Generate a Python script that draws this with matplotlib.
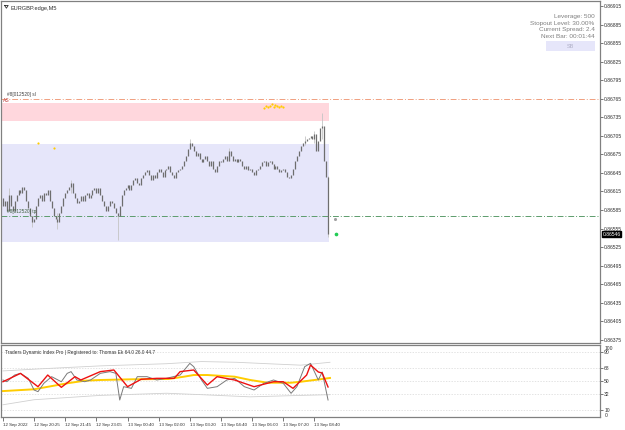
import numpy as np
import matplotlib
matplotlib.use('Agg')
import matplotlib.pyplot as plt
from matplotlib.patches import Rectangle
import matplotlib.transforms as mtrans

plt.rcParams['font.family'] = ['Liberation Sans', 'DejaVu Sans']

# M5 closes, one per bar
closes = [0.86592, 0.86600, 0.86584, 0.86609, 0.86592, 0.86584, 0.86600, 0.86609, 0.86617, 0.86612,
          0.86623, 0.86617, 0.86600, 0.86588, 0.86576, 0.86565, 0.86571, 0.86592, 0.86604, 0.86609,
          0.86600, 0.86613, 0.86609, 0.86617, 0.86600, 0.86588, 0.86576, 0.86571, 0.86565, 0.86581,
          0.86592, 0.86604, 0.86613, 0.86617, 0.86623, 0.86628, 0.86613, 0.86604, 0.86596, 0.86600,
          0.86607, 0.86600, 0.86609, 0.86613, 0.86605, 0.86609, 0.86617, 0.86621, 0.86613, 0.86620,
          0.86609, 0.86600, 0.86592, 0.86584, 0.86592, 0.86600, 0.86596, 0.86588, 0.86581, 0.86576,
          0.86592, 0.86609, 0.86617, 0.86620, 0.86625, 0.86617, 0.86625, 0.86633, 0.86636, 0.86629,
          0.86625, 0.86636, 0.86641, 0.86646, 0.86649, 0.86641, 0.86633, 0.86641, 0.86636, 0.86646,
          0.86652, 0.86646, 0.86639, 0.86649, 0.86652, 0.86657, 0.86646, 0.86641, 0.86636, 0.86646,
          0.86649, 0.86652, 0.86657, 0.86665, 0.86673, 0.86684, 0.86694, 0.86689, 0.86681, 0.86673,
          0.86678, 0.86668, 0.86662, 0.86668, 0.86673, 0.86665, 0.86657, 0.86665, 0.86652, 0.86646,
          0.86657, 0.86665, 0.86662, 0.86668, 0.86673, 0.86665, 0.86681, 0.86673, 0.86665, 0.86668,
          0.86662, 0.86668, 0.86665, 0.86657, 0.86652, 0.86657, 0.86649, 0.86652, 0.86646, 0.86641,
          0.86649, 0.86652, 0.86657, 0.86662, 0.86665, 0.86657, 0.86662, 0.86665, 0.86660, 0.86652,
          0.86657, 0.86652, 0.86646, 0.86649, 0.86652, 0.86646, 0.86639, 0.86636, 0.86641, 0.86652,
          0.86665, 0.86673, 0.86681, 0.86689, 0.86694, 0.86697, 0.86700, 0.86702, 0.86705, 0.86700,
          0.86708, 0.86681, 0.86697, 0.86717, 0.86721, 0.86665, 0.86638, 0.86546, 0.86546]
first_open = 0.86605
# bars with visible wicks: index -> (low, high)
wicks = {3: (0.86596, 0.86621), 15: (0.86558, 0.86575), 28: (0.86555, 0.86581), 35: (0.86613, 0.86634),
         59: (0.86536, 0.86581), 96: (0.86684, 0.86700), 116: (0.86665, 0.86686), 155: (0.86690, 0.86705),
         160: (0.86694, 0.86712), 164: (0.86700, 0.86742), 167: (0.86541, 0.86640)}

price_ticks = [0.86375 + 0.0003 * k for k in range(19)]
time_idx = [0, 16, 32, 48, 64, 80, 96, 112, 128, 144, 160]
time_labels = ['12 Sep 2022', '12 Sep 20:25', '12 Sep 21:45', '12 Sep 23:05', '13 Sep 00:40', '13 Sep 02:00',
               '13 Sep 03:20', '13 Sep 04:40', '13 Sep 06:00', '13 Sep 07:20', '13 Sep 08:40']

sl_level = 0.86765
tp_level = 0.86576
sell_zone = (0.86729, 0.86758)
buy_zone = (0.86534, 0.86692)
zone_end = 167.5
last_price = 0.86546

ydots_x = [18, 26, 134, 135, 136, 137, 138, 139, 140, 141, 142, 143, 144]
ydots_y = [0.86694, 0.86686, 0.86750, 0.86753, 0.86751, 0.86754, 0.86756, 0.86752, 0.86755, 0.86753,
           0.86751, 0.86754, 0.86752]

# Traders Dynamic Index lines (bar index, value)
rsi_x = [0, 2, 6, 9, 13, 16, 18, 21, 25, 30, 33, 35, 38, 42, 45, 50, 55, 58, 60, 62, 66, 69, 74, 79, 84,
         91, 96, 98, 102, 105, 110, 115, 119, 124, 129, 134, 139, 144, 148, 151, 155, 158, 162, 164, 167]
rsi_y = [51.4, 49, 58.3, 60.6, 53.7, 37.5, 35.2, 46.8, 56, 49, 60.6, 63, 51.4, 49, 51.4, 60.6, 63, 60.6,
         23.6, 42.1, 39.8, 56, 56, 51.4, 53.7, 58.3, 74.5, 69.9, 51.4, 39.8, 42.1, 51.4, 53.7, 42.1, 37.5,
         46.8, 51.4, 46.8, 32.9, 42.1, 69.9, 74.5, 51.4, 62.5, 23.6]
sig_x = [0, 9, 18, 23, 30, 37, 40, 50, 57, 64, 71, 79, 88, 91, 98, 105, 110, 119, 129, 139, 144, 149,
         156, 158, 162, 164, 167]
sig_y = [49, 60.6, 42.1, 58.3, 41.2, 56, 51.4, 63, 65.3, 42.1, 52.4, 53.7, 53.7, 63, 65.3, 44.4, 56,
         51.4, 42.1, 49, 49, 39.8, 58.3, 72.2, 62.5, 61.1, 41.7]
base_x = [0, 16, 33, 42, 50, 67, 85, 93, 98, 105, 119, 127, 136, 148, 153, 163, 168]
base_y = [36, 38.5, 46.8, 50.4, 51.4, 52.4, 52.8, 56, 58.3, 58.3, 56, 51.4, 47.6, 47.6, 49, 52.4, 54.2]
up_x = [0, 20, 50, 84, 102, 120, 136, 153, 168]
up_y = [64, 67, 71, 74, 77, 76, 74, 72, 76]
lo_x = [0, 16, 50, 84, 102, 127, 153, 168]
lo_y = [17, 24, 30, 33, 31, 28, 30, 31]
tdi_levels = [90, 68, 50, 32, 10]

fig = plt.figure(figsize=(6.25, 4.3), dpi=100)
ax = fig.add_axes([0.0016, 87 / 430, 599 / 625, 342 / 430])
ax2 = fig.add_axes([0.0016, 13 / 430, 599 / 625, 72 / 430])
grey = '#808080'
for a in (ax, ax2):
    for s in a.spines.values():
        s.set_color(grey)
        s.set_linewidth(0.9)
    a.set_xlim(-1, 306.7)
ax.set_ylim(0.86370, 0.86923)

# zones and levels
ax.add_patch(Rectangle((-1, sell_zone[0]), zone_end + 1, sell_zone[1] - sell_zone[0], color='#ffd7dd', lw=0, zorder=0))
ax.add_patch(Rectangle((-1, buy_zone[0]), zone_end + 1, buy_zone[1] - buy_zone[0], color='#e6e6fa', lw=0, zorder=0))
ax.axhline(sl_level, color='#f0a080', lw=0.7, ls='-.', dashes=(6, 2, 1, 2))
ax.axhline(tp_level, color='#5c9c6c', lw=0.7, ls='-.', dashes=(6, 2, 1, 2))

# candles
opens = [first_open] + closes[:-1]
x = np.arange(len(closes))
for i, (lo, hi) in wicks.items():
    ax.vlines(i, lo, hi, color='#c4c4c4', lw=0.6, zorder=2)
ax.vlines(x, opens, closes, color='#6e6e6e', lw=0.9, zorder=3)

ax.scatter(ydots_x, ydots_y, s=2.5, color='#ffcc00', lw=0, zorder=4)
ax.scatter([170.5], [0.86570], s=5, color='#a0a0a0', lw=0, zorder=4)
ax.scatter([171], [last_price], s=7, color='#22cc55', lw=0, zorder=4)

ax.set_xticks([])
ax.yaxis.tick_right()
ax.set_yticks(price_ticks)
ax.set_yticklabels(['%.5f' % p for p in price_ticks])
ax.tick_params(axis='y', labelsize=3.6, length=2, width=0.5, color='#404040', labelcolor='#303030', pad=1)
trans = mtrans.blended_transform_factory(ax.transAxes, ax.transData)
ax.text(1.004, last_price, '%.5f' % last_price, transform=trans, fontsize=3.6, color='white', va='center',
        bbox=dict(boxstyle='square,pad=0.15', fc='black', ec='black'))

# texts
ax.text(0.016, 0.985, 'EURGBP.edge,M5', transform=ax.transAxes, fontsize=4.1, color='#303030', va='top')
ax.plot([0.006, 0.012, 0.009, 0.006], [0.987, 0.987, 0.979, 0.987], transform=ax.transAxes, color='#303030', lw=0.6)
info = ['Leverage: 500', 'Stopout Level: 30.00%', 'Current Spread: 2.4', 'Next Bar: 00:01:44']
for k, t in enumerate(info):
    ax.text(0.991, 0.955 - k * 0.0195, t, transform=ax.transAxes, fontsize=4.6, color=grey, ha='right', va='center')
ax.add_patch(Rectangle((0.91, 0.855), 0.081, 0.027, transform=ax.transAxes, color='#e6e6fa', lw=0))
ax.text(0.95, 0.868, 'SB', transform=ax.transAxes, fontsize=4, color='#b0b0c8', ha='center', va='center')
ax.text(2, sl_level + 0.00003, '#8[012520] sl', fontsize=3.4, color='#404040', va='bottom')
ax.text(0, sl_level - 0.00003, 'AS', fontsize=3.6, color='#c04040', va='center')
ax.text(2, tp_level + 0.00003, '#8[012520] tp', fontsize=3.4, color='#406040', va='bottom')

# indicator pane
ax2.set_ylim(0, 100)
for lv in tdi_levels:
    ax2.axhline(lv, color='#d8d8d8', lw=0.5, ls=(0, (2, 2)))
ax2.plot(up_x, up_y, color='#d0d0d0', lw=0.6)
ax2.plot(lo_x, lo_y, color='#d0d0d0', lw=0.6)
ax2.plot(base_x, base_y, color='#ffcc00', lw=1.4)
ax2.plot(rsi_x, rsi_y, color='#7a7a7a', lw=0.7)
ax2.plot(sig_x, sig_y, color='#ee1111', lw=1.0)
ax2.text(0.006, 0.93, 'Traders Dynamic Index Pro | Registered to: Thomas Ek 64.0 26.0 44.7', transform=ax2.transAxes,
         fontsize=3.4, color='#303030', va='top')
ax2.yaxis.tick_right()
ax2.set_yticks(tdi_levels)
ax2.set_yticklabels([str(v) for v in tdi_levels])
ax2.tick_params(axis='y', labelsize=3.6, length=2, width=0.5, color='#404040', labelcolor='#303030', pad=1)
trans2 = mtrans.blended_transform_factory(ax2.transAxes, ax2.transData)
ax2.text(1.008, 95, '100', transform=trans2, fontsize=3.6, color='#303030', va='center')
ax2.text(1.008, 2, '0', transform=trans2, fontsize=3.6, color='#303030', va='center')

ax2.set_xticks(time_idx)
ax2.set_xticklabels(time_labels, ha='left')
ax2.tick_params(axis='x', labelsize=3.2, length=3, width=0.5, color='#404040', labelcolor='#303030', pad=1)

fig.savefig('out.png', dpi=100)
